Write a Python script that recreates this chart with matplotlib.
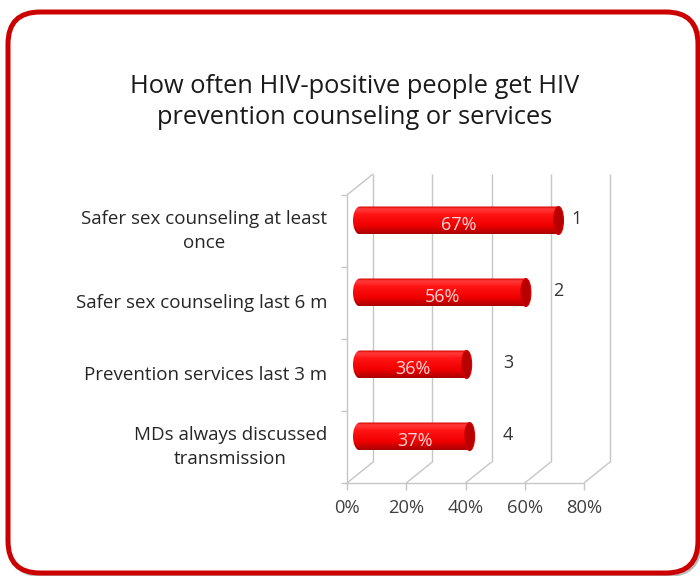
import matplotlib
matplotlib.use('Agg')
import matplotlib.pyplot as plt
import numpy as np
from matplotlib.patches import FancyBboxPatch, Ellipse, PathPatch
from matplotlib.path import Path
from matplotlib.colors import LinearSegmentedColormap

plt.rcParams['font.family'] = ['Open Sans', 'DejaVu Sans']

title = 'How often HIV-positive people get HIV\nprevention counseling or services'
categories = ['Safer sex counseling at least\nonce',
              'Safer sex counseling last 6 m',
              'Prevention services last 3 m',
              'MDs always discussed\ntransmission']
values = [67, 56, 36, 37]
bar_numbers = ['1', '2', '3', '4']
number_x = [73, 67, 50, 50]
xticks = [0, 20, 40, 60, 80]

fig = plt.figure(figsize=(7, 5.76), dpi=100)

# rounded red frame, in pixel coordinates
bg = fig.add_axes([0, 0, 1, 1])
bg.set_xlim(0, 700)
bg.set_ylim(576, 0)
bg.axis('off')
shadow = FancyBboxPatch((10, 14), 690, 561, boxstyle='round,pad=0,rounding_size=32',
                        facecolor='none', edgecolor='#bdbdbd', linewidth=3)
bg.add_patch(shadow)
frame = FancyBboxPatch((8, 12), 690, 561, boxstyle='round,pad=0,rounding_size=32',
                       facecolor='white', edgecolor='#cc0000', linewidth=3.6)
bg.add_patch(frame)

fig.text(355 / 700, 1 - 102 / 576, title, ha='center', va='center',
         fontsize=18.3, color='#1a1a1a', linespacing=1.35)

ax = fig.add_axes([347 / 700, 93 / 576, 237 / 700, 288 / 576])
ax.set_xlim(0, 80)
ax.set_ylim(0, 4)
ax.axis('off')

px_x = 80 / 237   # data units per pixel, horizontally
px_y = 4 / 288    # data units per pixel, vertically
DX, DY = 26 * px_x, 21 * px_y   # depth of the 3d box
grid = dict(color='#c6c6c6', lw=1, clip_on=False, solid_capstyle='butt')

# back wall gridlines and floor
for v in xticks:
    ax.plot([v + DX, v + DX], [DY, 4 + DY], **grid)
    ax.plot([v, v + DX], [0, DY], **grid)
    ax.plot([v, v], [0, -7 * px_y], **grid)
ax.plot([0, 80], [0, 0], **grid)

# side wall
ax.plot([0, 0], [0, 4], **grid)
ax.plot([0, DX], [4, 4 + DY], **grid)
for k in range(5):
    ax.plot([-6 * px_x, 0], [k, k], **grid)

for v in xticks:
    ax.text(v, -25 * px_y, f'{v}%', ha='center', va='center',
            fontsize=13.2, color='#404040')

for k, lab in enumerate(categories):
    ax.text(-20 * px_x, 3.5 - k, lab, ha='right', va='center', fontsize=13.5,
            color='#262626', linespacing=1.5, multialignment='center')

# cylinder bars
cmap = LinearSegmentedColormap.from_list(
    'cyl', [(0, '#a80000'), (0.3, '#f00000'), (0.7, '#ff1414'), (0.9, '#ff3a3a'), (1, '#d40000')])
grad = np.linspace(0, 1, 64).reshape(-1, 1)
h = 28 * px_y
lw_end = 14 * px_x
cap_w = 10 * px_x
for k, v in enumerate(values):
    yc = 3.5 - k + DY / 2
    x0 = DX / 2
    x1 = v + DX / 2
    t = np.linspace(np.pi / 2, 3 * np.pi / 2, 40)
    xs = list(x0 + lw_end / 2 * np.cos(t)) + [x1, x1]
    ys = list(yc + h / 2 * np.sin(t)) + [yc - h / 2, yc + h / 2]
    verts = list(zip(xs, ys)) + [(xs[0], ys[0])]
    body = Path(verts, closed=True)
    outline = PathPatch(body, facecolor='none', edgecolor='none', clip_on=False)
    ax.add_patch(outline)
    im = ax.imshow(grad, cmap=cmap, aspect='auto', origin='lower',
                   extent=[x0 - lw_end, x1, yc - h / 2, yc + h / 2], zorder=3)
    im.set_clip_path(outline)
    ax.add_patch(Ellipse((x1, yc), cap_w, h, facecolor='#b80000',
                         edgecolor='#d80000', lw=0.8, zorder=4, clip_on=False))
    ax.text((x0 + x1) / 2, yc - 5 * px_y, f'{v}%', ha='center', va='center',
            fontsize=13, color='#ffd6d6', zorder=5)
    ax.text(number_x[k] + DX / 2, yc + 2 * px_y, bar_numbers[k], ha='center',
            va='center', fontsize=13, color='#333333')

ax.set_xlim(0, 80)
ax.set_ylim(0, 4)

fig.savefig('out.png', dpi=100)
